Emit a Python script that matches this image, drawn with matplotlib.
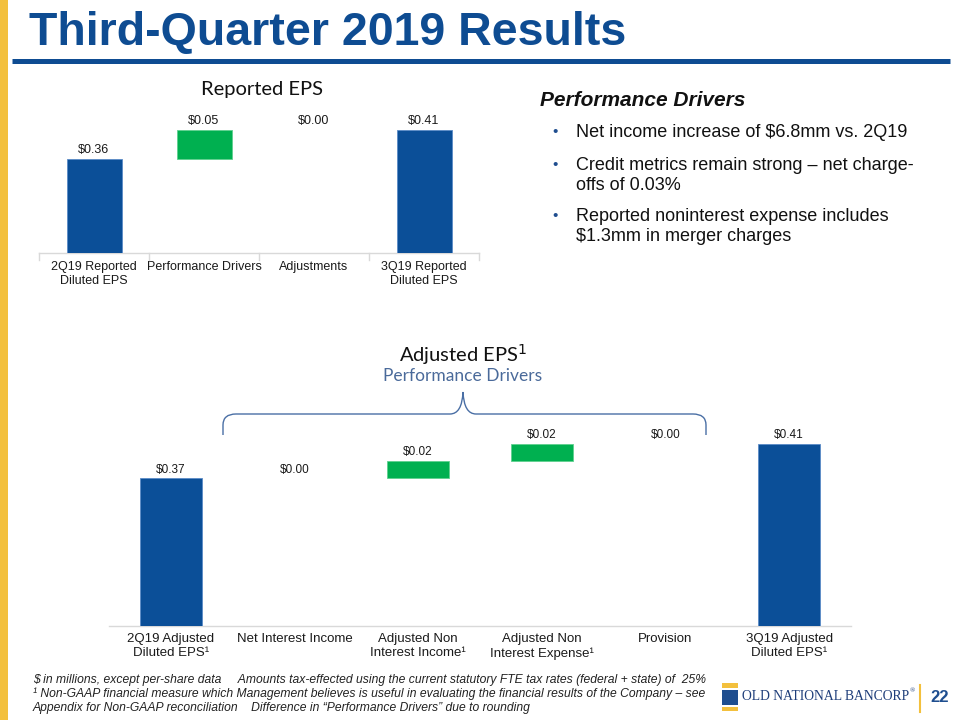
import matplotlib
matplotlib.use("Agg")
import matplotlib.pyplot as plt
from matplotlib.path import Path
from matplotlib.patches import PathPatch, Rectangle

# ---------------- data ----------------
top_categories = ["2Q19 Reported\nDiluted EPS", "Performance Drivers", "Adjustments", "3Q19 Reported\nDiluted EPS"]
top_values = [0.36, 0.05, 0.00, 0.41]
top_kinds = ["total", "delta", "delta", "total"]

bot_categories = ["2Q19 Adjusted\nDiluted EPS\u00b9", "Net Interest Income", "Adjusted Non\nInterest Income\u00b9",
                  "Adjusted Non\nInterest Expense\u00b9", "Provision", "3Q19 Adjusted\nDiluted EPS\u00b9"]
bot_values = [0.37, 0.00, 0.02, 0.02, 0.00, 0.41]
bot_kinds = ["total", "delta", "delta", "delta", "delta", "total"]

bullets = ["Net income increase of $6.8mm vs. 2Q19",
           "Credit metrics remain strong \u2013 net charge-\noffs of 0.03%",
           "Reported noninterest expense includes\n$1.3mm in merger charges"]

footnotes = ["$ in millions, except per-share data     Amounts tax-effected using the current statutory FTE tax rates (federal + state) of  25%",
             "\u00b9 Non-GAAP financial measure which Management believes is useful in evaluating the financial results of the Company \u2013 see",
             "Appendix for Non-GAAP reconciliation    Difference in \u201cPerformance Drivers\u201d due to rounding"]

BLUE = "#0B4F98"
GREEN = "#00B050"
TITLE_BLUE = "#0E4C92"
GOLD = "#F3C03D"
SANS = ["Liberation Sans", "DejaVu Sans"]

W, H = 960, 720
fig = plt.figure(figsize=(9.6, 7.2), dpi=100)

# background overlay in pixel coordinates
bg = fig.add_axes([0, 0, 1, 1])
bg.set_xlim(0, W)
bg.set_ylim(H, 0)
bg.axis("off")
bg.add_patch(Rectangle((0, 0), 8, H, color=GOLD, lw=0))
bg.plot([12, 950], [60.5, 60.5], color=TITLE_BLUE, lw=3.6, solid_capstyle="butt")
bg.text(29, 33, "Third-Quarter 2019 Results", fontsize=33.5, fontweight="bold", color=TITLE_BLUE,
        family=SANS, va="center", ha="left")


def waterfall(ax, cats, vals, kinds, label_fs, tick_fs, pad, sep):
    level = 0.0
    xs = range(len(cats))
    for i, (v, k) in enumerate(zip(vals, kinds)):
        if k == "total":
            ax.bar(i, v, width=0.5, bottom=0, color=BLUE, edgecolor="#5B8BC7", linewidth=0.6, zorder=3)
            level = v
            top = v
        else:
            if v != 0:
                ax.bar(i, v, width=0.5, bottom=level, color=GREEN, edgecolor="#5FD08F", linewidth=0.6, zorder=3)
            level = level + v
            top = level
        ax.annotate(f"${v:.2f}", (i, top), xytext=(0, 2), textcoords="offset points",
                    ha="center", va="bottom", fontsize=label_fs, family=SANS, color="#1a1a1a")
    ax.set_xlim(-0.5, len(cats) - 0.5)
    ax.set_ylim(0.2, 0.42)
    for s in ["top", "right", "left"]:
        ax.spines[s].set_visible(False)
    ax.spines["bottom"].set_color("#D9D9D9")
    ax.spines["bottom"].set_linewidth(1)
    ax.set_yticks([])
    ax.set_xticks(list(xs))
    ax.set_xticklabels(cats, fontsize=tick_fs, family=SANS, color="#1a1a1a", linespacing=1.25)
    ax.tick_params(axis="x", length=0, pad=pad)
    if sep:
        for b in [i - 0.5 for i in range(len(cats) + 1)]:
            ax.plot([b, b], [0.2, 0.2 - 0.012], color="#D9D9D9", lw=1, clip_on=False)


# top chart
ax1 = fig.add_axes([39 / W, 1 - 252.7 / H, 440 / W, 0.22 * 586 / H])
waterfall(ax1, top_categories, top_values, top_kinds, 9, 9, 6, True)

# bottom chart
ax2 = fig.add_axes([109 / W, 1 - 626 / H, 742 / W, 0.22 * 868 / H])
waterfall(ax2, bot_categories, bot_values, bot_kinds, 8.5, 9.5, 5, False)

# chart titles
bg.text(262, 90, "Reported EPS", fontsize=14.5, family=["Lato", "DejaVu Sans"], ha="center", va="center", color="#111111")
bg.text(463, 355, "Adjusted EPS$^{1}$", fontsize=14.5, family=["Lato", "DejaVu Sans"], ha="center", va="center", color="#111111")
bg.text(463, 376, "Performance Drivers", fontsize=12.5, family=["Lato", "DejaVu Sans"], ha="center", va="center", color="#4A6A9A")

# bracket
verts = [(223, 437), (223, 425), (223, 414), (236, 414), (450, 414), (462, 414), (463, 392),
         (464, 414), (476, 414), (693, 414), (706, 414), (706, 425), (706, 437)]
codes = [Path.MOVETO, Path.LINETO, Path.CURVE3, Path.CURVE3, Path.LINETO, Path.CURVE3, Path.CURVE3,
         Path.CURVE3, Path.CURVE3, Path.LINETO, Path.CURVE3, Path.CURVE3, Path.LINETO]
bg.add_patch(PathPatch(Path(verts, codes), fill=False, edgecolor="#4A6FA5", lw=1))

# performance drivers text
bg.text(540, 100, "Performance Drivers", fontsize=15, fontweight="bold", style="italic", family=SANS,
        ha="left", va="center", color="#111111")
ys = [132, 165, 216]
for y, t in zip(ys, bullets):
    bg.text(552, y, "\u2022", fontsize=11, family=SANS, color="#1F4E8F", ha="left", va="center")
    bg.text(576, y - 8, t, fontsize=13, family=SANS, color="#111111", ha="left", va="top", linespacing=1.25)

# footnotes
for i, t in enumerate(footnotes):
    bg.text(33, 680 + 14 * i, t, fontsize=8.7, style="italic", family=SANS, color="#222222",
            ha="left", va="center")

# logo
bg.add_patch(Rectangle((722, 683), 16, 5, color=GOLD, lw=0))
bg.add_patch(Rectangle((722, 690), 16, 15, color="#1F4E8F", lw=0))
bg.add_patch(Rectangle((722, 707), 16, 4, color=GOLD, lw=0))
bg.text(742, 697, "OLD NATIONAL BANCORP", fontsize=9.8, family=["Liberation Serif", "DejaVu Serif"],
        color="#1F3E7A", ha="left", va="center")
bg.text(910, 691, "\u00ae", fontsize=5, family=["Liberation Serif", "DejaVu Serif"],
        color="#1F3E7A", ha="left", va="center")
bg.plot([920, 920], [685, 712], color=GOLD, lw=1.5)
bg.text(930, 698, "22", fontsize=12, fontweight="bold", family=SANS, color="#1F4E8F", ha="left", va="center")

fig.savefig("out.png", dpi=100)
